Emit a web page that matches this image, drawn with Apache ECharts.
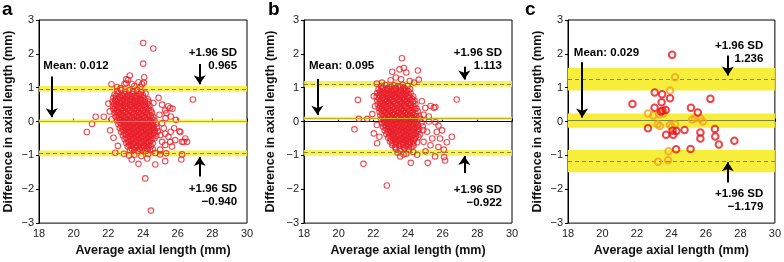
<!DOCTYPE html>
<html><head><meta charset="utf-8">
<script src="https://cdn.jsdelivr.net/npm/echarts@6/dist/echarts.min.js"></script>
<style>html,body{margin:0;padding:0;background:#fff}#c{width:784px;height:262px}</style>
</head><body><div id="c"></div>
<script>
// ---------- data ----------
const panelLetters = ['a', 'b', 'c'];
const xTitle = 'Average axial length (mm)';
const yTitle = 'Difference in axial length (mm)';
const meanVals = [0.012, 0.095, 0.029];
const upperVals = [0.965, 1.113, 1.236];
const lowerVals = [-0.940, -0.922, -1.179];
const upperTxt = ['0.965', '1.113', '1.236'];
const lowerTxt = ['\u22120.940', '\u22120.922', '\u22121.179'];
const meanTxt = ['Mean: 0.012', 'Mean: 0.095', 'Mean: 0.029'];
// confidence bands of limits (panel c) [lo, hi]
const cUpperBand = [0.92, 1.58];
const cMeanBand = [-0.18, 0.24];
const cLowerBand = [-1.50, -0.84];

const aPoints = [
[24.01,2.32],[24.59,2.16],[24.01,1.71],[24.07,1.31],[23.24,1.36],[23.14,1.23],[23.03,1.13],[22.18,1.10],[22.93,1.11],[23.36,1.11],[23.74,1.16],[23.94,1.10],[23.03,1.25],[23.5,1.05],[23.85,1.02],[24.05,1.15],[22.5,1.02],[22.7,0.98],
[26.88,0.65],[20.76,-0.31],[21.06,-0.07],[21.27,0.14],[21.74,0.14],[22.0,0.53],[22.1,-0.26],[22.2,0.07],[22.3,-0.48],[22.55,-0.72],[22.08,0.3],
[25.28,0.33],[25.57,0.40],[25.45,0.45],[25.7,0.38],[25.35,0.25],[25.6,0.15],[25.9,0.05],[25.3,0.1],[24.9,0.7],[24.6,0.55],[25.1,0.5],[24.95,0.2],[25.1,-0.05],
[26.15,-0.31],[26.44,-0.5],[26.34,-0.6],[26.54,-0.6],[25.86,-0.55],[25.28,-0.69],[25.67,-0.74],[24.99,-0.83],[26.1,-0.29],[26.25,-0.6],[25.57,-0.6],[25.28,-0.36],[25.47,-0.45],[24.99,-0.97],[25.34,-0.94],[26.25,-0.97],[24.71,-0.93],[25.0,-0.4],[25.2,-0.2],[25.6,-0.3],[25.8,-0.2],[25.1,-0.6],
[23.74,-1.25],[24.57,-0.82],[25.28,-1.17],[24.13,-1.68],[24.46,-2.63],[24.71,-1.27],[26.21,-1.12],[23.2,-1.0],[23.5,-0.98],[23.9,-1.02],[24.3,-0.96],[22.9,-0.95],[23.35,-1.12],[24.24,-1.09],[22.4,-0.92],
[22.52,0.9],[22.74,0.93],[22.98,0.88],[23.2,0.92],[23.44,0.89],[23.66,0.94],[23.9,0.87],
[22.36,0.8],[22.56,0.83],[22.77,0.78],[22.96,0.81],[23.16,0.79],[23.37,0.82],[23.57,0.77],[23.78,0.81],[23.98,0.78],[24.15,0.83],
[22.29,0.7],[22.48,0.67],[22.67,0.71],[22.86,0.68],[23.05,0.7],[23.25,0.66],[23.45,0.71],[23.64,0.69],[23.84,0.67],[24.04,0.7],[24.27,0.66],
[22.24,0.58],[22.42,0.61],[22.6,0.57],[22.79,0.59],[22.97,0.56],[23.15,0.6],[23.34,0.57],[23.53,0.59],[23.72,0.56],[23.9,0.6],[24.1,0.57],[24.32,0.59],
[22.27,0.46],[22.46,0.49],[22.65,0.45],[22.84,0.48],[23.02,0.46],[23.21,0.49],[23.4,0.45],[23.58,0.48],[23.77,0.46],[23.96,0.49],[24.15,0.45],[24.38,0.47],
[22.3,0.36],[22.5,0.34],[22.7,0.37],[22.88,0.35],[23.07,0.38],[23.26,0.34],[23.45,0.37],[23.63,0.35],[23.82,0.38],[24.01,0.34],[24.2,0.36],[24.45,0.33],
[22.36,0.25],[22.55,0.27],[22.74,0.24],[22.93,0.26],[23.12,0.23],[23.31,0.27],[23.5,0.24],[23.69,0.26],[23.88,0.23],[24.07,0.27],[24.27,0.24],[24.52,0.26],
[22.42,0.14],[22.62,0.12],[22.81,0.15],[23.0,0.13],[23.19,0.16],[23.38,0.12],[23.57,0.15],[23.76,0.13],[23.95,0.16],[24.14,0.12],[24.34,0.15],[24.6,0.13],
[22.5,0.03],[22.69,0.05],[22.88,0.02],[23.07,0.04],[23.26,0.01],[23.45,0.05],[23.64,0.02],[23.83,0.04],[24.02,0.01],[24.21,0.05],[24.42,0.02],[24.66,0.04],
[22.58,-0.08],[22.77,-0.06],[22.96,-0.09],[23.15,-0.07],[23.34,-0.1],[23.53,-0.06],[23.72,-0.09],[23.91,-0.07],[24.1,-0.1],[24.29,-0.06],[24.5,-0.09],[24.74,-0.07],
[22.66,-0.19],[22.85,-0.17],[23.04,-0.2],[23.23,-0.18],[23.42,-0.21],[23.61,-0.17],[23.8,-0.2],[23.99,-0.18],[24.18,-0.21],[24.37,-0.17],[24.58,-0.2],[24.8,-0.18],
[22.74,-0.3],[22.93,-0.28],[23.12,-0.31],[23.31,-0.29],[23.5,-0.32],[23.69,-0.28],[23.88,-0.31],[24.07,-0.29],[24.26,-0.32],[24.45,-0.28],[24.65,-0.31],[24.86,-0.29],
[22.84,-0.41],[23.03,-0.39],[23.22,-0.42],[23.41,-0.4],[23.6,-0.43],[23.79,-0.39],[23.98,-0.42],[24.17,-0.4],[24.36,-0.43],[24.55,-0.39],[24.76,-0.42],
[22.94,-0.52],[23.13,-0.5],[23.32,-0.53],[23.51,-0.51],[23.7,-0.54],[23.89,-0.5],[24.08,-0.53],[24.27,-0.51],[24.46,-0.54],[24.66,-0.5],
[23.03,-0.63],[23.22,-0.61],[23.41,-0.64],[23.6,-0.62],[23.79,-0.65],[23.98,-0.61],[24.17,-0.64],[24.36,-0.62],[24.56,-0.65],
[23.12,-0.74],[23.31,-0.72],[23.5,-0.75],[23.69,-0.73],[23.88,-0.76],[24.07,-0.72],[24.26,-0.75],[24.46,-0.73],
[23.25,-0.85],[23.48,-0.83],[23.7,-0.86],[23.93,-0.84],[24.15,-0.87],[24.4,-0.84]
];
const aCore = [
[22.46,0.76],[22.66,0.74],[22.86,0.77],[23.06,0.75],[23.26,0.73],[23.46,0.76],[23.66,0.74],[23.86,0.77],
[22.39,0.63],[22.58,0.65],[22.77,0.62],[22.96,0.64],[23.15,0.62],[23.34,0.65],[23.53,0.63],[23.72,0.61],[23.91,0.64],[24.12,0.62],
[22.34,0.52],[22.52,0.5],[22.71,0.53],[22.9,0.51],[23.09,0.54],[23.28,0.5],[23.47,0.53],[23.66,0.51],[23.85,0.54],[24.04,0.5],[24.24,0.52],
[22.4,0.41],[22.59,0.43],[22.78,0.4],[22.97,0.42],[23.16,0.39],[23.35,0.43],[23.54,0.4],[23.73,0.42],[23.92,0.39],[24.11,0.43],[24.3,0.4],
[22.45,0.3],[22.64,0.28],[22.83,0.31],[23.02,0.29],[23.21,0.32],[23.4,0.28],[23.59,0.31],[23.78,0.29],[23.97,0.32],[24.16,0.28],[24.36,0.31],
[22.52,0.19],[22.71,0.21],[22.9,0.18],[23.09,0.2],[23.28,0.17],[23.47,0.21],[23.66,0.18],[23.85,0.2],[24.04,0.17],[24.23,0.21],[24.44,0.18],
[22.6,0.08],[22.79,0.06],[22.98,0.09],[23.17,0.07],[23.36,0.1],[23.55,0.06],[23.74,0.09],[23.93,0.07],[24.12,0.1],[24.31,0.06],[24.5,0.09],
[22.68,-0.03],[22.87,-0.01],[23.06,-0.04],[23.25,-0.02],[23.44,-0.05],[23.63,-0.01],[23.82,-0.04],[24.01,-0.02],[24.2,-0.05],[24.39,-0.01],[24.56,-0.04],
[22.75,-0.14],[22.94,-0.12],[23.13,-0.15],[23.32,-0.13],[23.51,-0.16],[23.7,-0.12],[23.89,-0.15],[24.08,-0.13],[24.27,-0.16],[24.46,-0.12],[24.62,-0.15],
[22.83,-0.25],[23.02,-0.23],[23.21,-0.26],[23.4,-0.24],[23.59,-0.27],[23.78,-0.23],[23.97,-0.26],[24.16,-0.24],[24.35,-0.27],[24.54,-0.23],[24.68,-0.26],
[22.93,-0.36],[23.12,-0.34],[23.31,-0.37],[23.5,-0.35],[23.69,-0.38],[23.88,-0.34],[24.07,-0.37],[24.26,-0.35],[24.45,-0.38],[24.64,-0.34],
[23.03,-0.47],[23.22,-0.45],[23.41,-0.48],[23.6,-0.46],[23.79,-0.49],[23.98,-0.45],[24.17,-0.48],[24.36,-0.46],[24.55,-0.49],
[23.12,-0.58],[23.31,-0.56],[23.5,-0.59],[23.69,-0.57],[23.88,-0.6],[24.07,-0.56],[24.26,-0.59],[24.45,-0.57],
[23.2,-0.69],[23.4,-0.67],[23.6,-0.7],[23.8,-0.68],[24.0,-0.71],[24.2,-0.67],[24.36,-0.7],
[23.35,-0.8],[23.58,-0.78],[23.82,-0.81],[24.05,-0.79],[24.25,-0.8]
];

const bPoints = [
[23.65,1.87],[22.78,-1.89],[21.43,-1.25],[20.91,-0.23],[21.11,0.64],[21.17,0.08],[21.65,0.08],[26.81,0.65],[23.09,1.47],[23.51,1.54],[23.76,1.58],[23.9,1.45],[24.57,1.51],[24.62,1.24],[23.3,1.3],[23.0,1.22],[23.6,1.25],[24.1,1.2],[24.35,1.15],[22.5,1.15],[22.2,1.12],
[25.3,0.46],[25.49,0.41],[25.58,0.43],[25.58,-0.02],[25.97,-0.26],[26.53,-0.45],[26.24,-0.61],[25.85,-0.5],[26.06,-0.83],[26.08,-1.05],[26.14,-1.15],[25.14,-1.22],[25.56,-1.03],[25.01,-0.88],[24.53,-0.98],[24.16,-1.22],[23.55,-1.03],[23.74,-0.97],[24.9,0.2],[25.2,0.0],[25.1,-0.3],[25.4,-0.5],[25.3,-0.7],[24.9,-0.6],[25.0,0.4],[24.8,0.6],[25.2,0.15],[25.66,-0.31],[25.76,-0.12],[25.75,-0.75],[23.9,-0.95],[24.3,-0.9],[23.4,-0.92],
[22.03,0.75],[21.94,0.22],[22.03,-0.35],[22.22,-0.64],[22.1,0.45],[22.2,-0.1],[22.35,-0.45],
[22.45,1.05],[22.7,1.08],[22.95,1.03],[23.2,1.07],[23.45,1.04],[23.7,1.08],[23.98,1.05],
[22.3,0.95],[22.5,0.97],[22.7,0.94],[22.9,0.96],[23.1,0.93],[23.3,0.97],[23.5,0.94],[23.7,0.96],[23.9,0.93],[24.12,0.96],
[22.22,0.84],[22.41,0.86],[22.6,0.83],[22.79,0.85],[22.98,0.82],[23.17,0.86],[23.36,0.83],[23.55,0.85],[23.74,0.82],[23.93,0.86],[24.15,0.83],
[22.2,0.73],[22.39,0.75],[22.58,0.72],[22.77,0.74],[22.96,0.71],[23.15,0.75],[23.34,0.72],[23.53,0.74],[23.72,0.71],[23.91,0.75],[24.1,0.72],[24.3,0.74],
[22.23,0.62],[22.42,0.6],[22.61,0.63],[22.8,0.61],[22.99,0.64],[23.18,0.6],[23.37,0.63],[23.56,0.61],[23.75,0.64],[23.94,0.6],[24.13,0.63],[24.38,0.61],
[22.26,0.51],[22.45,0.53],[22.64,0.5],[22.83,0.52],[23.02,0.49],[23.21,0.53],[23.4,0.5],[23.59,0.52],[23.78,0.49],[23.97,0.53],[24.16,0.5],[24.42,0.52],
[22.31,0.4],[22.5,0.38],[22.69,0.41],[22.88,0.39],[23.07,0.42],[23.26,0.38],[23.45,0.41],[23.64,0.39],[23.83,0.42],[24.02,0.38],[24.21,0.41],[24.48,0.39],
[22.36,0.29],[22.55,0.31],[22.74,0.28],[22.93,0.3],[23.12,0.27],[23.31,0.31],[23.5,0.28],[23.69,0.3],[23.88,0.27],[24.07,0.31],[24.27,0.28],[24.56,0.3],
[22.41,0.18],[22.6,0.16],[22.79,0.19],[22.98,0.17],[23.17,0.2],[23.36,0.16],[23.55,0.19],[23.74,0.17],[23.93,0.2],[24.12,0.16],[24.33,0.19],[24.64,0.17],
[22.46,0.07],[22.65,0.09],[22.84,0.06],[23.03,0.08],[23.22,0.05],[23.41,0.09],[23.6,0.06],[23.79,0.08],[23.98,0.05],[24.17,0.09],[24.38,0.06],[24.7,0.08],
[22.51,-0.04],[22.7,-0.02],[22.89,-0.05],[23.08,-0.03],[23.27,-0.06],[23.46,-0.02],[23.65,-0.05],[23.84,-0.03],[24.03,-0.06],[24.22,-0.02],[24.44,-0.05],[24.78,-0.03],
[22.56,-0.15],[22.75,-0.13],[22.94,-0.16],[23.13,-0.14],[23.32,-0.17],[23.51,-0.13],[23.7,-0.16],[23.89,-0.14],[24.08,-0.17],[24.27,-0.13],[24.5,-0.16],[24.85,-0.14],
[22.65,-0.26],[22.84,-0.24],[23.03,-0.27],[23.22,-0.25],[23.41,-0.28],[23.6,-0.24],[23.79,-0.27],[23.98,-0.25],[24.17,-0.28],[24.36,-0.24],[24.58,-0.27],[24.88,-0.25],
[22.75,-0.37],[22.94,-0.35],[23.13,-0.38],[23.32,-0.36],[23.51,-0.39],[23.7,-0.35],[23.89,-0.38],[24.08,-0.36],[24.27,-0.39],[24.46,-0.35],[24.68,-0.38],
[22.86,-0.48],[23.05,-0.46],[23.24,-0.49],[23.43,-0.47],[23.62,-0.5],[23.81,-0.46],[24.0,-0.49],[24.19,-0.47],[24.38,-0.5],[24.6,-0.46],
[22.96,-0.59],[23.15,-0.57],[23.34,-0.6],[23.53,-0.58],[23.72,-0.61],[23.91,-0.57],[24.1,-0.6],[24.3,-0.58],[24.52,-0.61],
[23.1,-0.7],[23.3,-0.68],[23.5,-0.71],[23.7,-0.69],[23.9,-0.72],[24.1,-0.68],[24.32,-0.71],
[23.3,-0.8],[23.55,-0.82],[23.8,-0.79],[24.05,-0.83]
];
const bCore = [
[22.55,1.0],[22.8,0.98],[23.05,1.01],[23.3,0.99],[23.55,1.02],[23.8,0.98],
[22.4,0.9],[22.6,0.88],[22.8,0.91],[23.0,0.89],[23.2,0.92],[23.4,0.88],[23.6,0.91],[23.8,0.89],[24.02,0.9],
[22.35,0.79],[22.54,0.77],[22.73,0.8],[22.92,0.78],[23.11,0.81],[23.3,0.77],[23.49,0.8],[23.68,0.78],[23.87,0.81],[24.06,0.77],
[22.33,0.68],[22.52,0.7],[22.71,0.67],[22.9,0.69],[23.09,0.66],[23.28,0.7],[23.47,0.67],[23.66,0.69],[23.85,0.66],[24.04,0.7],[24.23,0.67],
[22.38,0.57],[22.57,0.55],[22.76,0.58],[22.95,0.56],[23.14,0.59],[23.33,0.55],[23.52,0.58],[23.71,0.56],[23.9,0.59],[24.09,0.55],[24.28,0.58],
[22.4,0.46],[22.59,0.48],[22.78,0.45],[22.97,0.47],[23.16,0.44],[23.35,0.48],[23.54,0.45],[23.73,0.47],[23.92,0.44],[24.11,0.48],[24.32,0.45],
[22.45,0.35],[22.64,0.33],[22.83,0.36],[23.02,0.34],[23.21,0.37],[23.4,0.33],[23.59,0.36],[23.78,0.34],[23.97,0.37],[24.16,0.33],[24.38,0.36],
[22.5,0.24],[22.69,0.26],[22.88,0.23],[23.07,0.25],[23.26,0.22],[23.45,0.26],[23.64,0.23],[23.83,0.25],[24.02,0.22],[24.21,0.26],[24.43,0.23],
[22.55,0.13],[22.74,0.11],[22.93,0.14],[23.12,0.12],[23.31,0.15],[23.5,0.11],[23.69,0.14],[23.88,0.12],[24.07,0.15],[24.26,0.11],[24.48,0.14],
[22.6,0.02],[22.79,0.04],[22.98,0.01],[23.17,0.03],[23.36,0.0],[23.55,0.04],[23.74,0.01],[23.93,0.03],[24.12,0.0],[24.31,0.04],[24.53,0.01],
[22.65,-0.09],[22.84,-0.07],[23.03,-0.1],[23.22,-0.08],[23.41,-0.11],[23.6,-0.07],[23.79,-0.1],[23.98,-0.08],[24.17,-0.11],[24.36,-0.07],[24.58,-0.1],
[22.72,-0.2],[22.91,-0.18],[23.1,-0.21],[23.29,-0.19],[23.48,-0.22],[23.67,-0.18],[23.86,-0.21],[24.05,-0.19],[24.24,-0.22],[24.43,-0.18],[24.63,-0.21],
[22.82,-0.31],[23.01,-0.29],[23.2,-0.32],[23.39,-0.3],[23.58,-0.33],[23.77,-0.29],[23.96,-0.32],[24.15,-0.3],[24.34,-0.33],[24.53,-0.29],
[22.92,-0.42],[23.11,-0.4],[23.3,-0.43],[23.49,-0.41],[23.68,-0.44],[23.87,-0.4],[24.06,-0.43],[24.25,-0.41],[24.45,-0.44],
[23.02,-0.53],[23.21,-0.51],[23.4,-0.54],[23.59,-0.52],[23.78,-0.55],[23.97,-0.51],[24.16,-0.54],[24.36,-0.52],
[23.1,-0.64],[23.3,-0.62],[23.5,-0.65],[23.7,-0.63],[23.9,-0.66],[24.1,-0.62],[24.3,-0.65],
[23.25,-0.75],[23.5,-0.73],[23.75,-0.76],[24.0,-0.74],[24.2,-0.75]
];

const cRed = [
[24.04,1.97],[23.03,0.86],[23.46,0.81],[23.92,0.69],[21.74,0.52],[23.43,0.57],[26.26,0.67],[23.02,0.41],[23.48,0.32],[23.67,0.34],[23.39,0.30],[25.13,0.41],[25.53,0.27],[22.64,-0.2],[24.06,-0.27],[24.29,-0.28],[24.1,-0.39],[23.69,-0.39],[24.76,-0.25],[25.68,-0.32],[25.68,-0.5],[26.52,-0.22],[26.54,-0.44],[26.75,-0.68],[27.65,-0.57],[24.27,-0.82],[25.11,-0.81]
];
const cOrange = [
[24.21,1.31],[23.92,0.92],[22.64,0.235],[22.95,0.18],[23.29,0.215],[23.52,0.235],[25.2,0.06],[25.38,0.10],[25.68,0.09],[25.82,0.0],[23.2,-0.08],[23.33,-0.13],[23.92,-0.1],[24.02,-0.16],[24.21,-0.08],[23.83,-0.88],[23.81,-1.14],[23.22,-1.19]
];

// annotation anchors (data coords; text blocks are centred vertically on them)
const meanTextPos = [[18.25,1.66],[18.29,1.66],[18.34,2.02]];
const meanArrow = [[18.73,1.33,0.13],[18.77,1.26,0.2],[18.82,1.75,0.12]];
const upTextPos = [[29.43,1.85],[29.42,1.83],[29.33,2.04]];
const upArrow = [[27.27,1.7,1.1],[27.25,1.62,1.24],[27.27,1.95,1.36]];
const lowTextPos = [[29.43,-2.19],[29.42,-2.21],[29.33,-2.32]];
const lowArrow = [[27.27,-1.62,-1.05],[27.25,-1.52,-1.02],[27.27,-1.8,-1.2]];

// ---------- chart ----------
const chart = echarts.init(document.getElementById('c'), null, {renderer:'canvas'});
const FONT = '"Liberation Sans", Arial, sans-serif';
const grids = [
  {left:39, top:20, width:208, height:209},
  {left:304, top:20, width:208, height:209},
  {left:568, top:20, width:209, height:209}
];
const yNameGap = [24, 27, 24];
const minusFmt = v => v < 0 ? '\u2212' + Math.abs(v) : String(v);

const xAxes = grids.map((g,i) => ({
  gridIndex:i, type:'value', min:18, max:30, interval:2,
  name:xTitle, nameLocation:'middle', nameGap:20,
  nameTextStyle:{fontFamily:FONT, fontWeight:'bold', fontSize:12.5, color:'#111', padding: i===0 ? [0,0,0,20] : 0},
  axisLine:{show:true, lineStyle:{color:'#000', width:1}},
  axisTick:{show:true, inside:true, length:3, lineStyle:{color:'#000'}},
  axisLabel:{fontFamily:FONT, fontSize:11, color:'#222', margin:5},
  splitLine:{show:false}
}));
const yAxes = grids.map((g,i) => ({
  gridIndex:i, type:'value', min:-3, max:3, interval:1,
  name:yTitle, nameLocation:'middle', nameGap:yNameGap[i],
  nameTextStyle:{fontFamily:FONT, fontWeight:'bold', fontSize:12.5, color:'#111'},
  axisLine:{show:true, lineStyle:{color:'#000', width:1}},
  axisTick:{show:true, inside:false, length:3, lineStyle:{color:'#000'}},
  axisLabel:{fontFamily:FONT, fontSize:11, color:'#222', margin:5, formatter:minusFmt},
  splitLine:{show:false}
}));

const series = [];
const RED = '#e8202a';
const YEL = '#f7ee3c';
const OLIVE = '#86863a';

function scatter(i, data, color, size, bw, z) {
  series.push({type:'scatter', xAxisIndex:i, yAxisIndex:i, data:data, symbol:'circle', symbolSize:size,
    itemStyle:{color:'rgba(0,0,0,0)', borderColor:color, borderWidth:bw}, z:z, silent:true, animation:false, large:false});
}
function bands(i, list, z, color) {
  series.push({type:'scatter', xAxisIndex:i, yAxisIndex:i, data:[], z:z, silent:true, animation:false,
    markArea:{silent:true, itemStyle:{color:color}, data:list.map(b => [{yAxis:b[0]},{yAxis:b[1]}])}});
}
function hlines(i, list, z) {
  series.push({type:'scatter', xAxisIndex:i, yAxisIndex:i, data:[], z:z, silent:true, animation:false,
    markLine:{silent:true, symbol:['none','none'], label:{show:false}, animation:false,
      data:list.map(l => ({yAxis:l.v, lineStyle:{color:l.c, width:l.w, type:l.t}}))}});
}
function arrows(i, list, z) {
  series.push({type:'scatter', xAxisIndex:i, yAxisIndex:i, data:[], z:z, silent:true, animation:false,
    markLine:{silent:true, symbol:['none','arrow'], symbolSize:9, label:{show:false}, animation:false,
      lineStyle:{color:'#000', width:2, type:'solid'}, itemStyle:{color:'#000'},
      data:list.map(a => [{coord:[a[0],a[1]]},{coord:[a[0],a[2]]}])}});
}

const pts = [aPoints.concat(aCore), bPoints.concat(bCore)];
for (let i=0;i<2;i++) {
  scatter(i, pts[i], RED, 5.5, 1.1, 2);
  bands(i, [[upperVals[i]-0.085, upperVals[i]+0.085],[lowerVals[i]-0.085, lowerVals[i]+0.085],[meanVals[i]-0.05, meanVals[i]+0.05]], 3, 'rgba(247,238,60,0.85)');
  hlines(i, [{v:upperVals[i], c:OLIVE, w:1, t:[4,3]},{v:lowerVals[i], c:OLIVE, w:1, t:[4,3]},{v:meanVals[i], c:'#bdb222', w:1, t:'solid'}], 4);
}
bands(2, [cUpperBand, cMeanBand, cLowerBand], 1, YEL);
hlines(2, [{v:upperVals[2], c:OLIVE, w:1, t:[4,3]},{v:lowerVals[2], c:OLIVE, w:1, t:[4,3]},{v:meanVals[2], c:OLIVE, w:1, t:'solid'}], 3);
scatter(2, cOrange, '#f2a321', 6.5, 2, 5);
scatter(2, cRed, '#e8141c', 6.5, 2, 5);
for (let i=0;i<3;i++) arrows(i, [meanArrow[i], upArrow[i], lowArrow[i]], 6);

chart.setOption({
  animation:false,
  grid: grids.map(g => Object.assign({show:true, borderColor:'#000', borderWidth:1, backgroundColor:'transparent'}, g)),
  xAxis:xAxes, yAxis:yAxes, series:series
});

// annotation texts positioned through the axes' scales
const g = [];
const tf = 'bold 11.5px ' + FONT;
const letterX = [2, 268, 525];
for (let i=0;i<3;i++) {
  g.push({type:'text', left:letterX[i], top:0, style:{text:panelLetters[i], font:'bold 19px ' + FONT, fill:'#000'}});
  const m = chart.convertToPixel({gridIndex:i}, meanTextPos[i]);
  g.push({type:'text', x:m[0], y:m[1], style:{text:meanTxt[i], font:tf, fill:'#000', align:'left', verticalAlign:'middle', textAlign:'left', textVerticalAlign:'middle'}});
  const u = chart.convertToPixel({gridIndex:i}, upTextPos[i]);
  g.push({type:'text', x:u[0], y:u[1], style:{text:'+1.96 SD\n' + upperTxt[i], font:tf, fill:'#000', lineHeight:13, align:'right', verticalAlign:'middle', textAlign:'right', textVerticalAlign:'middle'}});
  const l = chart.convertToPixel({gridIndex:i}, lowTextPos[i]);
  g.push({type:'text', x:l[0], y:l[1], style:{text:'+1.96 SD\n' + lowerTxt[i], font:tf, fill:'#000', lineHeight:13, align:'right', verticalAlign:'middle', textAlign:'right', textVerticalAlign:'middle'}});
}
chart.setOption({graphic:g});
</script></body></html>
